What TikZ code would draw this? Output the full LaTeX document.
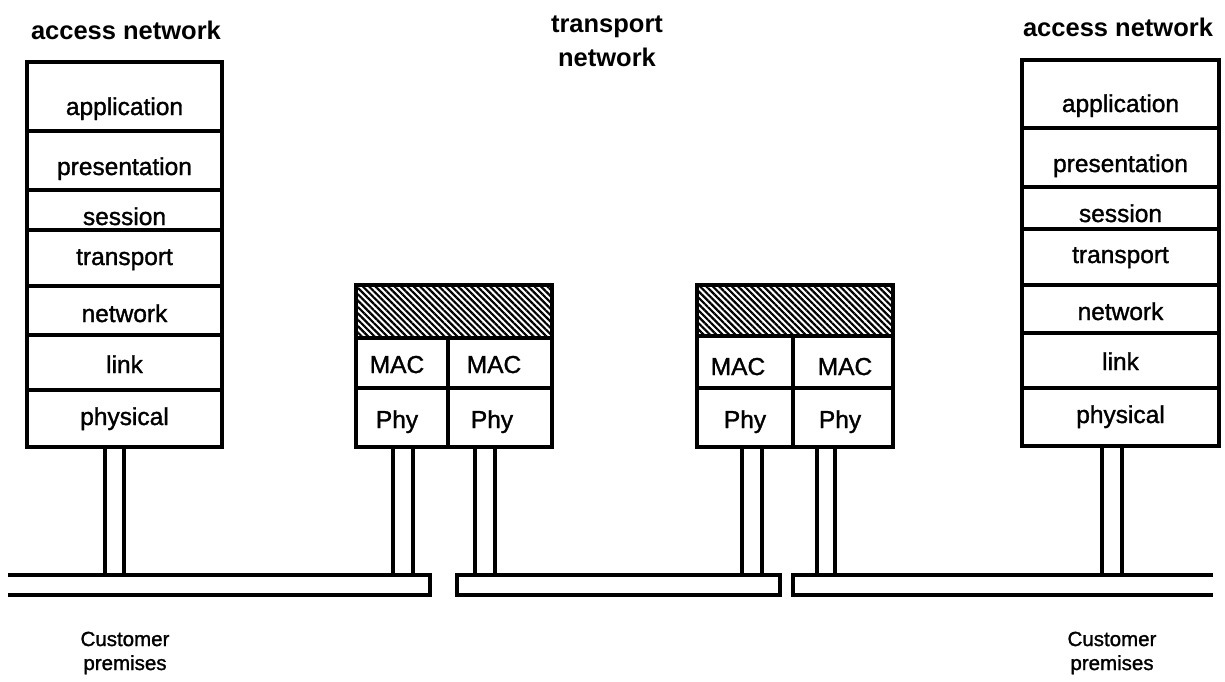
\documentclass[tikz,border=0pt]{standalone}
\usepackage{fontspec}
\setmainfont{Liberation Sans}
\newfontfamily\medfont{Liberation Sans}[FakeBold=1.3]
\usetikzlibrary{patterns.meta}
\begin{document}
\begin{tikzpicture}[x=1pt,y=-1pt,
  lw/.style={line width=3.2pt},
  box/.style={draw, lw, inner sep=0pt, outer sep=0pt},
  lbl/.style={anchor=base, font=\medfont\fontsize{24.5}{28}\selectfont, inner sep=0pt},
  ttl/.style={font=\bfseries\fontsize{25.5}{34}\selectfont, align=center, inner sep=0pt},
  cust/.style={font=\medfont\fontsize{20.5}{24}\selectfont, align=center, inner sep=0pt},
  hatchbox/.style={box, pattern={Lines[angle=-45,distance=4.5pt,line width=2.2pt]}},
  pole/.style={lw},
  bus/.style={lw, line join=miter}]
\useasboundingbox (0,0) rectangle (1225,681);

% titles
\node[ttl] (tL) at (126,30) {access network};
\node[ttl] (tM) at (607,41) {transport\\network};
\node[ttl] (tR) at (1118,27) {access network};

% left stack
\foreach \n/\t/\b/\s/\bl in {La/62/131/application/115, Lb/131/190/presentation/175, Lc/190/230/session/225, Ld/230/286/transport/265, Le/286/335/network/322, Lf/335/390/link/373, Lg/390/447/physical/425}{
  \node[box, minimum width=195pt, minimum height={(\b-\t)*1pt}] (\n) at (124.5,{(\t+\b)/2}) {};
  \node[lbl] at (124.5,\bl) {\s};
}
% right stack
\foreach \n/\t/\b/\s/\bl in {Ra/60/128/application/112, Rb/128/187/presentation/172, Rc/187/229/session/222, Rd/229/285/transport/263, Re/285/333/network/320, Rf/333/388/link/370, Rg/388/446/physical/423}{
  \node[box, minimum width=197pt, minimum height={(\b-\t)*1pt}] (\n) at (1120.5,{(\t+\b)/2}) {};
  \node[lbl] at (1120.5,\bl) {\s};
}

% bridge 1
\node[hatchbox, minimum width=196pt, minimum height=53pt] (B1h) at (454,311.5) {};
\node[box, minimum width=92pt, minimum height=50pt] (B1m1) at (402,363) {};
\node[box, minimum width=104pt, minimum height=50pt] (B1m2) at (500,363) {};
\node[box, minimum width=92pt, minimum height=59pt] (B1p1) at (402,417.5) {};
\node[box, minimum width=104pt, minimum height=59pt] (B1p2) at (500,417.5) {};
\node[lbl] at (397,373) {MAC};
\node[lbl] at (494,373) {MAC};
\node[lbl] at (397,428) {Phy};
\node[lbl] at (492,428) {Phy};

% bridge 2
\node[hatchbox, minimum width=196pt, minimum height=51pt] (B2h) at (795,310.5) {};
\node[box, minimum width=96pt, minimum height=52pt] (B2m1) at (745,362) {};
\node[box, minimum width=100pt, minimum height=52pt] (B2m2) at (843,362) {};
\node[box, minimum width=96pt, minimum height=59pt] (B2p1) at (745,417.5) {};
\node[box, minimum width=100pt, minimum height=59pt] (B2p2) at (843,417.5) {};
\node[lbl] at (738,375) {MAC};
\node[lbl] at (845,375) {MAC};
\node[lbl] at (745,428) {Phy};
\node[lbl] at (840,428) {Phy};

% poles
\foreach \x/\top in {105/447,124/447,393/447,413/447,475/447,495/447,742/447,762/447,817/447,835/447,1102/446,1122/446}{
  \draw[pole] (\x,\top) -- (\x,575);
}

% bus segments
\draw[bus] (8,575) -- (430,575) -- (430,595) -- (8,595);
\draw[bus] (457,575) rectangle (780,595);
\draw[bus] (1213,575) -- (793,575) -- (793,595) -- (1213,595);

% customer premises
\node[cust] (cL) at (125,653) {Customer\\premises};
\node[cust] (cR) at (1112,653) {Customer\\premises};
\end{tikzpicture}
\end{document}
